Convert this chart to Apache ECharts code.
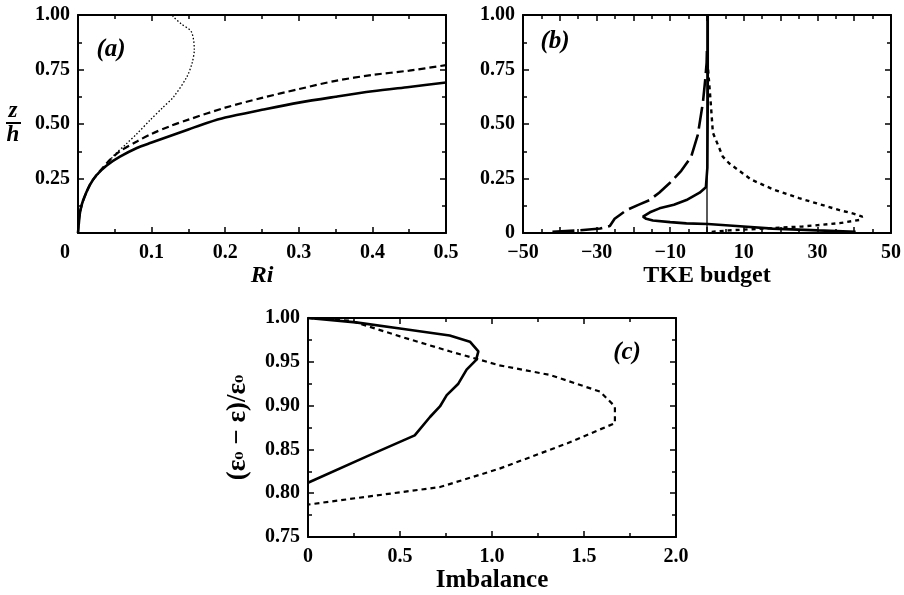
<!DOCTYPE html>
<html><head><meta charset="utf-8">
<script src="https://cdn.jsdelivr.net/npm/echarts@6/dist/echarts.min.js"></script>
<style>html,body{margin:0;padding:0;background:#fff}#c{width:904px;height:595px}</style>
</head><body><div id="c"></div><script>
// ---------- Panel (a): z/h versus Ri ----------
const aSolid = [[0,0],[0.001,0.04],[0.003,0.1],[0.007,0.15],[0.016,0.22],[0.025,0.265],[0.039,0.31],[0.057,0.35],[0.08,0.39],[0.1,0.415],[0.125,0.445],[0.15,0.475],[0.175,0.505],[0.2,0.53],[0.25,0.565],[0.3,0.598],[0.35,0.625],[0.4,0.65],[0.45,0.67],[0.5,0.69]];
const aDashed = [[0,0],[0.003,0.1],[0.016,0.22],[0.039,0.32],[0.057,0.375],[0.08,0.42],[0.1,0.455],[0.125,0.49],[0.15,0.52],[0.2,0.575],[0.25,0.62],[0.3,0.66],[0.35,0.698],[0.4,0.725],[0.45,0.745],[0.5,0.77]];
const aDotted = [[0,0],[0.003,0.1],[0.016,0.22],[0.039,0.315],[0.05,0.36],[0.066,0.41],[0.08,0.455],[0.098,0.518],[0.115,0.575],[0.13,0.625],[0.148,0.717],[0.155,0.78],[0.158,0.84],[0.154,0.923],[0.14,0.96],[0.13,0.99],[0.128,1.0]];
// ---------- Panel (b): z/h versus TKE budget ----------
const bSolid = [[0.2,1.0],[0.2,0.6],[0.1,0.3],[-0.3,0.21],[-2,0.185],[-5.6,0.151],[-9,0.13],[-12.9,0.113],[-15.5,0.095],[-17.4,0.075],[-16.5,0.065],[-14.7,0.057],[-10,0.05],[-5.6,0.044],[0.2,0.041],[8,0.032],[17.8,0.02],[30,0.012],[40.4,0.006]];
const bLongDash = [[-42,0.005],[-35,0.012],[-29,0.021],[-26.4,0.032],[-25.1,0.065],[-23.5,0.085],[-21.9,0.105],[-18.5,0.13],[-15.6,0.151],[-13,0.185],[-10.2,0.228],[-7,0.285],[-4.3,0.35],[-2.5,0.45],[-1.1,0.6],[-0.5,0.7],[-0.1,0.78],[0,0.85]];
const bDotted = [[0.3,0.75],[1,0.6],[1.6,0.46],[4.3,0.35],[6,0.32],[8.8,0.285],[12,0.245],[18,0.2],[25,0.16],[30,0.135],[36,0.105],[40,0.088],[42.2,0.075],[41.5,0.06],[36,0.045],[26,0.03],[15,0.02],[6,0.012],[1,0.005]];
const bZero = [[0,0],[0,1]];
// ---------- Panel (c): (e0-e)/e0 versus Imbalance ----------
const cSolid = [[0,1.0],[0.26,0.995],[0.5,0.988],[0.77,0.98],[0.88,0.973],[0.926,0.962],[0.913,0.952],[0.862,0.941],[0.817,0.925],[0.754,0.912],[0.717,0.899],[0.663,0.887],[0.58,0.866],[0.32,0.842],[0,0.812]];
const cDashed = [[0,1.0],[0.23,0.997],[0.5,0.979],[0.77,0.962],[1.04,0.946],[1.315,0.935],[1.587,0.916],[1.668,0.899],[1.668,0.88],[1.41,0.857],[1.04,0.828],[0.717,0.807],[0.32,0.796],[0,0.787]];

const FONT = '"Liberation Serif","Times New Roman",serif';
const BLACK = '#000';

function axisCommon(gridIndex, min, max, interval, minorSplit) {
  return {
    type: 'value', gridIndex, min, max, interval,
    axisLine: {show: true, onZero: false, lineStyle: {color: BLACK, width: 2}},
    axisTick: {show: true, inside: true, length: 6, lineStyle: {color: BLACK, width: 1.5}},
    minorTick: {show: true, splitNumber: minorSplit, length: 4, lineStyle: {color: BLACK, width: 1.5}},
    splitLine: {show: false}, minorSplitLine: {show: false}
  };
}
function mkX(gridIndex, min, max, interval, minorSplit, fmt, name, nameGap) {
  const b = axisCommon(gridIndex, min, max, interval, minorSplit);
  b.position = 'bottom';
  b.axisLabel = {show: true, formatter: fmt, fontFamily: FONT, fontWeight: 'bold', fontSize: 20, color: BLACK, margin: 10,
    rich: {o: {fontFamily: FONT, fontWeight: 'bold', fontSize: 20, color: BLACK, padding: [0, 26, 0, 0]}}};
  b.name = name.text; b.nameLocation = 'middle'; b.nameGap = nameGap;
  b.nameTextStyle = Object.assign({fontFamily: FONT, fontWeight: 'bold', fontSize: 24, color: BLACK}, name.style || {});
  const t = axisCommon(gridIndex, min, max, interval, minorSplit);
  t.position = 'top'; t.axisLabel = {show: false};
  return [b, t];
}
function mkY(gridIndex, min, max, interval, minorSplit, fmt, name) {
  const l = axisCommon(gridIndex, min, max, interval, minorSplit);
  l.position = 'left';
  l.axisLabel = {show: true, formatter: fmt, fontFamily: FONT, fontWeight: 'bold', fontSize: 20, color: BLACK, margin: 8};
  if (name) Object.assign(l, name);
  const r = axisCommon(gridIndex, min, max, interval, minorSplit);
  r.position = 'right'; r.axisLabel = {show: false};
  return [l, r];
}
function ser(xi, data, width, type, smooth) {
  return {type: 'line', xAxisIndex: xi, yAxisIndex: xi, data, showSymbol: false, symbol: 'none', smooth: smooth || false,
    lineStyle: {color: BLACK, width, type}, animation: false, silent: true};
}
const fmtA_x = v => v === 0 ? '{o|0}' : v.toFixed(1);
const fmtA_y = v => v === 0 ? '' : v.toFixed(2);
const fmtB_x = v => (Math.round(v) % 20 === 0) ? '' : (v < 0 ? '\u2212' + Math.abs(v) : String(v));
const fmtB_y = v => v === 0 ? '0' : v.toFixed(2);
const fmtC_x = v => v === 0 ? '0' : v.toFixed(1);
const fmtC_y = v => v.toFixed(2);

const xAxis = [].concat(
  mkX(0, 0, 0.5, 0.1, 2, fmtA_x, {text: 'Ri', style: {fontStyle: 'italic'}}, 30),
  mkX(1, -50, 50, 10, 2, fmtB_x, {text: 'TKE budget'}, 28),
  mkX(2, 0, 2, 0.5, 2, fmtC_x, {text: 'Imbalance', style: {fontSize: 25}}, 26)
);
const yAxis = [].concat(
  mkY(0, 0, 1, 0.25, 2, fmtA_y),
  mkY(1, 0, 1, 0.25, 2, fmtB_y),
  mkY(2, 0.75, 1, 0.05, 2, fmtC_y, {
    name: '(\u03b5{s|\u2080} \u2212 \u03b5)/\u03b5{s|\u2080}', nameLocation: 'middle', nameRotate: 90, nameGap: 56,
    nameTextStyle: {fontFamily: FONT, fontWeight: 'bold', fontSize: 27, color: BLACK,
      rich: {s: {fontFamily: '"DejaVu Serif",serif', fontWeight: 'bold', fontSize: 19, color: BLACK}}}
  })
);
const series = [
  ser(0, aSolid, 2.6, 'solid', 0.3),
  ser(0, aDashed, 2.2, [7, 4], 0.3),
  ser(0, aDotted, 1.3, [1.5, 2], 0.3),
  ser(2, bZero, 1.3, 'solid'),
  ser(2, bSolid, 2.6, 'solid'),
  ser(2, bLongDash, 2.6, [22, 6]),
  ser(2, bDotted, 2.4, [4, 4]),
  ser(4, cSolid, 2.6, 'solid'),
  ser(4, cDashed, 2.2, [5, 4])
];
const grid = [
  {left: 78, top: 15, width: 368, height: 218},
  {left: 523, top: 15, width: 369, height: 218},
  {left: 308, top: 318, width: 368, height: 219}
];
const txt = (x, y, text, size, italic) => ({type: 'text', x, y, silent: true,
  style: {text, fontFamily: FONT, fontSize: size, fontWeight: 'bold', fontStyle: italic ? 'italic' : 'normal',
    fill: BLACK, textAlign: 'center', textVerticalAlign: 'middle'}});
const graphic = [
  txt(111, 50, '(a)', 25, true),
  txt(555, 42, '(b)', 25, true),
  txt(627, 353, '(c)', 25, true),
  txt(13, 111, 'z', 23, true),
  {type: 'line', silent: true, shape: {x1: 6, y1: 123, x2: 21, y2: 123}, style: {stroke: BLACK, lineWidth: 2}},
  txt(13, 135, 'h', 23, true)
];
const chart = echarts.init(document.getElementById('c'), null, {renderer: 'canvas'});
chart.setOption({backgroundColor: '#fff', animation: false, grid, xAxis, yAxis, series, graphic});
</script></body></html>
